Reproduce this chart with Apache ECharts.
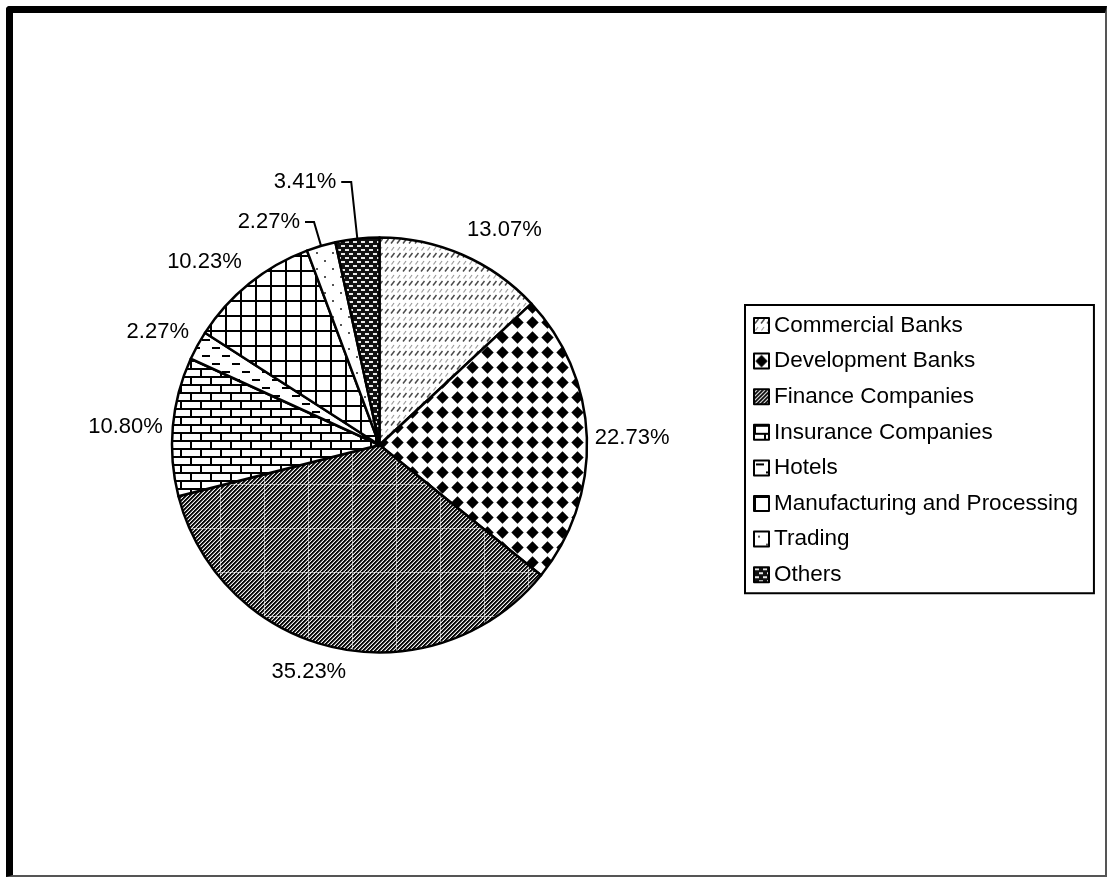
<!DOCTYPE html>
<html>
<head>
<meta charset="utf-8">
<style>
  html, body { margin: 0; padding: 0; background: #fff; }
  #chart { position: absolute; left: 0; top: 0; width: 1109px; height: 880px; }
  #frame {
    position: absolute; left: 6px; top: 6px; width: 1092px; height: 862px;
    border-left: 7px solid #000; border-top: 7px solid #000;
    border-right: 2px solid #555; border-bottom: 2px solid #555;
    border-top-left-radius: 4px; pointer-events: none;
  }
</style>
<script src="https://cdn.jsdelivr.net/npm/echarts@6/dist/echarts.min.js"></script>
</head>
<body>
<div id="chart"></div>
<div id="frame"></div>
<script>
// Sector shares of listed institutions (percent of total)
const categories = [
  'Commercial Banks',
  'Development Banks',
  'Finance Companies',
  'Insurance Companies',
  'Hotels',
  'Manufacturing and Processing',
  'Trading',
  'Others'
];
const shares = [13.07, 22.73, 35.23, 10.80, 2.27, 10.23, 2.27, 3.41];

// Label leader settings per slice (line lengths and small nudges)
const labelPlacement = [
  { length: 27,   length2: 0,  line: false, dx: -11 },
  { length: 0,    length2: 3,  line: false, dx: 0 },
  { length: 24.5, length2: 0,  line: false, dx: 21 },
  { length: 0,    length2: 5,  line: false, dx: 0 },
  { length: 29,   length2: 0,  line: false, dx: 22 },
  { length: 28,   length2: 0,  line: false, dx: 15 },
  { length: 25,   length2: 9,  line: true,  dx: 0 },
  { length: 57,   length2: 10, line: true,  dx: 0 }
];

const FONT = '"Liberation Sans", Arial, Helvetica, sans-serif';

// ---- monochrome fill patterns ----
function tile(w, h, bg, draw) {
  const c = document.createElement('canvas');
  c.width = w; c.height = h;
  const g = c.getContext('2d');
  g.fillStyle = bg; g.fillRect(0, 0, w, h);
  draw(g, w, h);
  return c;
}
function pattern(canvas) { return { image: canvas, repeat: 'repeat' }; }

const fills = [
  // slanted gray dashes
  pattern(tile(6, 14, '#fff', function (g) {
    g.strokeStyle = '#4a4a4a'; g.lineWidth = 1.5;
    g.beginPath(); g.moveTo(1, 5.5); g.lineTo(4.5, 1); g.stroke();
    g.strokeStyle = '#9a9a9a'; g.lineWidth = 1.2;
    g.beginPath(); g.moveTo(1.5, 12.5); g.lineTo(4, 9); g.stroke();
  })),
  // black diamonds
  pattern(tile(15, 15, '#fff', function (g) {
    g.fillStyle = '#000';
    g.beginPath();
    g.moveTo(7.5, 1.3); g.lineTo(13.7, 7.5); g.lineTo(7.5, 13.7); g.lineTo(1.3, 7.5);
    g.closePath(); g.fill();
  })),
  // dense upward diagonal stripes
  pattern(tile(44, 44, '#fff', function (g, w, h) {
    const img = g.getImageData(0, 0, w, h);
    const shade = [10, 10, 110, 240];
    for (let y = 0; y < h; y++) {
      for (let x = 0; x < w; x++) {
        const k = (y * w + x) * 4;
        let v = shade[(x + y) % 4];
        if (x === 0 || y === 0) v = v < 100 ? 140 : 230;
        img.data[k] = img.data[k + 1] = img.data[k + 2] = v;
        img.data[k + 3] = 255;
      }
    }
    g.putImageData(img, 0, 0);
  })),
  // bricks
  pattern(tile(20, 16, '#fff', function (g) {
    g.fillStyle = '#000';
    g.fillRect(0, 0, 20, 2);
    g.fillRect(0, 8, 20, 2);
    g.fillRect(0, 2, 2, 6);
    g.fillRect(10, 10, 2, 6);
  })),
  // short dashes
  pattern(tile(20, 16, '#fff', function (g) {
    g.fillStyle = '#000';
    g.fillRect(2, 3, 8, 2);
    g.fillRect(12, 11, 8, 2);
  })),
  // square grid
  pattern(tile(15, 15, '#fff', function (g) {
    g.fillStyle = '#000';
    g.fillRect(0, 0, 15, 2);
    g.fillRect(0, 0, 2, 15);
  })),
  // sparse dots
  pattern(tile(16, 16, '#fff', function (g) {
    g.fillStyle = '#555';
    g.fillRect(4, 4, 2, 2);
    g.fillRect(12, 12, 2, 2);
  })),
  // dark checker
  pattern(tile(8, 8, '#111', function (g) {
    g.fillStyle = '#e8e8e8';
    g.fillRect(1, 1, 4, 2);
    g.fillRect(5, 5, 4, 2);
    g.fillRect(-3, 5, 4, 2);
  }))
];

const pieData = categories.map(function (name, i) {
  const p = labelPlacement[i];
  return {
    name: name,
    value: shares[i],
    itemStyle: { color: fills[i] },
    labelLine: { show: p.line, length: p.length, length2: p.length2 }
  };
});

const chart = echarts.init(document.getElementById('chart'), null, { renderer: 'canvas' });
chart.setOption({
  animation: false,
  backgroundColor: '#fff',
  legend: {
    orient: 'vertical',
    left: 745,
    top: 305,
    itemWidth: 15,
    itemHeight: 15,
    itemGap: 12.6,
    padding: [9, 16, 7, 8],
    borderColor: '#000',
    borderWidth: 2,
    icon: 'rect',
    selectedMode: false,
    itemStyle: { borderColor: '#000', borderWidth: 2 },
    textStyle: { fontFamily: FONT, fontSize: 22.5, lineHeight: 22, color: '#000', padding: [0, 0, 0, 0] },
    data: categories
  },
  series: [{
    type: 'pie',
    center: [379.5, 445],
    radius: 207.5,
    startAngle: 90,
    clockwise: true,
    avoidLabelOverlap: false,
    emphasis: { disabled: true },
    itemStyle: { borderColor: '#000', borderWidth: 2.5 },
    label: {
      show: true,
      position: 'outside',
      fontFamily: FONT,
      fontSize: 22,
      color: '#000',
      distanceToLabelLine: 5,
      formatter: function (p) { return p.value.toFixed(2) + '%'; }
    },
    labelLine: {
      lineStyle: { color: '#000', width: 2 },
      minTurnAngle: 0,
      maxSurfaceAngle: 180
    },
    labelLayout: function (params) {
      const p = labelPlacement[params.dataIndex];
      return { dx: p.dx, hideOverlap: false };
    },
    data: pieData
  }]
});
</script>
</body>
</html>
